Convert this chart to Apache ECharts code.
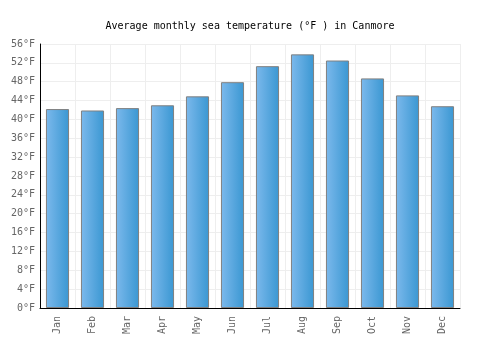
<!DOCTYPE html>
<html>
<head>
<meta charset="utf-8">
<script src="https://cdn.jsdelivr.net/npm/echarts@6/dist/echarts.min.js"></script>
<style>
html, body { margin: 0; padding: 0; background: #fff; }
#chart { width: 500px; height: 350px; }
</style>
</head>
<body>
<div id="chart"></div>
<script>
var months = ['Jan','Feb','Mar','Apr','May','Jun','Jul','Aug','Sep','Oct','Nov','Dec'];
var sea_temp = [42.2, 41.9, 42.4, 43.0, 44.9, 47.9, 51.3, 53.8, 52.5, 48.7, 45.1, 42.8];

var font = 'DejaVu Sans Mono';
var myChart = echarts.init(document.getElementById('chart'));
myChart.setOption({
	animation: false,
	title: {
		text: 'Average monthly sea temperature (°F ) in Canmore',
		left: 'center',
		top: 16,
		textStyle: { fontFamily: font, fontSize: 10, fontWeight: 'normal', color: '#000' }
	},
	grid: { left: 40, right: 40, top: 44, bottom: 42 },
	xAxis: {
		type: 'category',
		data: months,
		axisLine: { lineStyle: { color: '#000', width: 1 } },
		axisTick: { show: false },
		splitLine: { show: true, lineStyle: { color: '#eeeeee' } },
		axisLabel: { rotate: 90, color: '#666', fontFamily: font, fontSize: 10, margin: 8 }
	},
	yAxis: {
		type: 'value',
		min: 0, max: 56, interval: 4,
		axisLine: { show: true, lineStyle: { color: '#000', width: 1 } },
		axisTick: { show: false },
		splitLine: { lineStyle: { color: '#eeeeee' } },
		axisLabel: { formatter: '{value}°F', color: '#666', fontFamily: font, fontSize: 10, margin: 5 }
	},
	series: [{
		type: 'bar',
		data: sea_temp,
		barWidth: '66%',
		itemStyle: {
			borderColor: '#808080',
			borderWidth: 1,
			color: new echarts.graphic.LinearGradient(0, 0, 1, 0, [
				{ offset: 0, color: '#7cb9ec' },
				{ offset: 1, color: '#3a97d2' }
			])
		}
	}]
});
</script>
</body>
</html>
